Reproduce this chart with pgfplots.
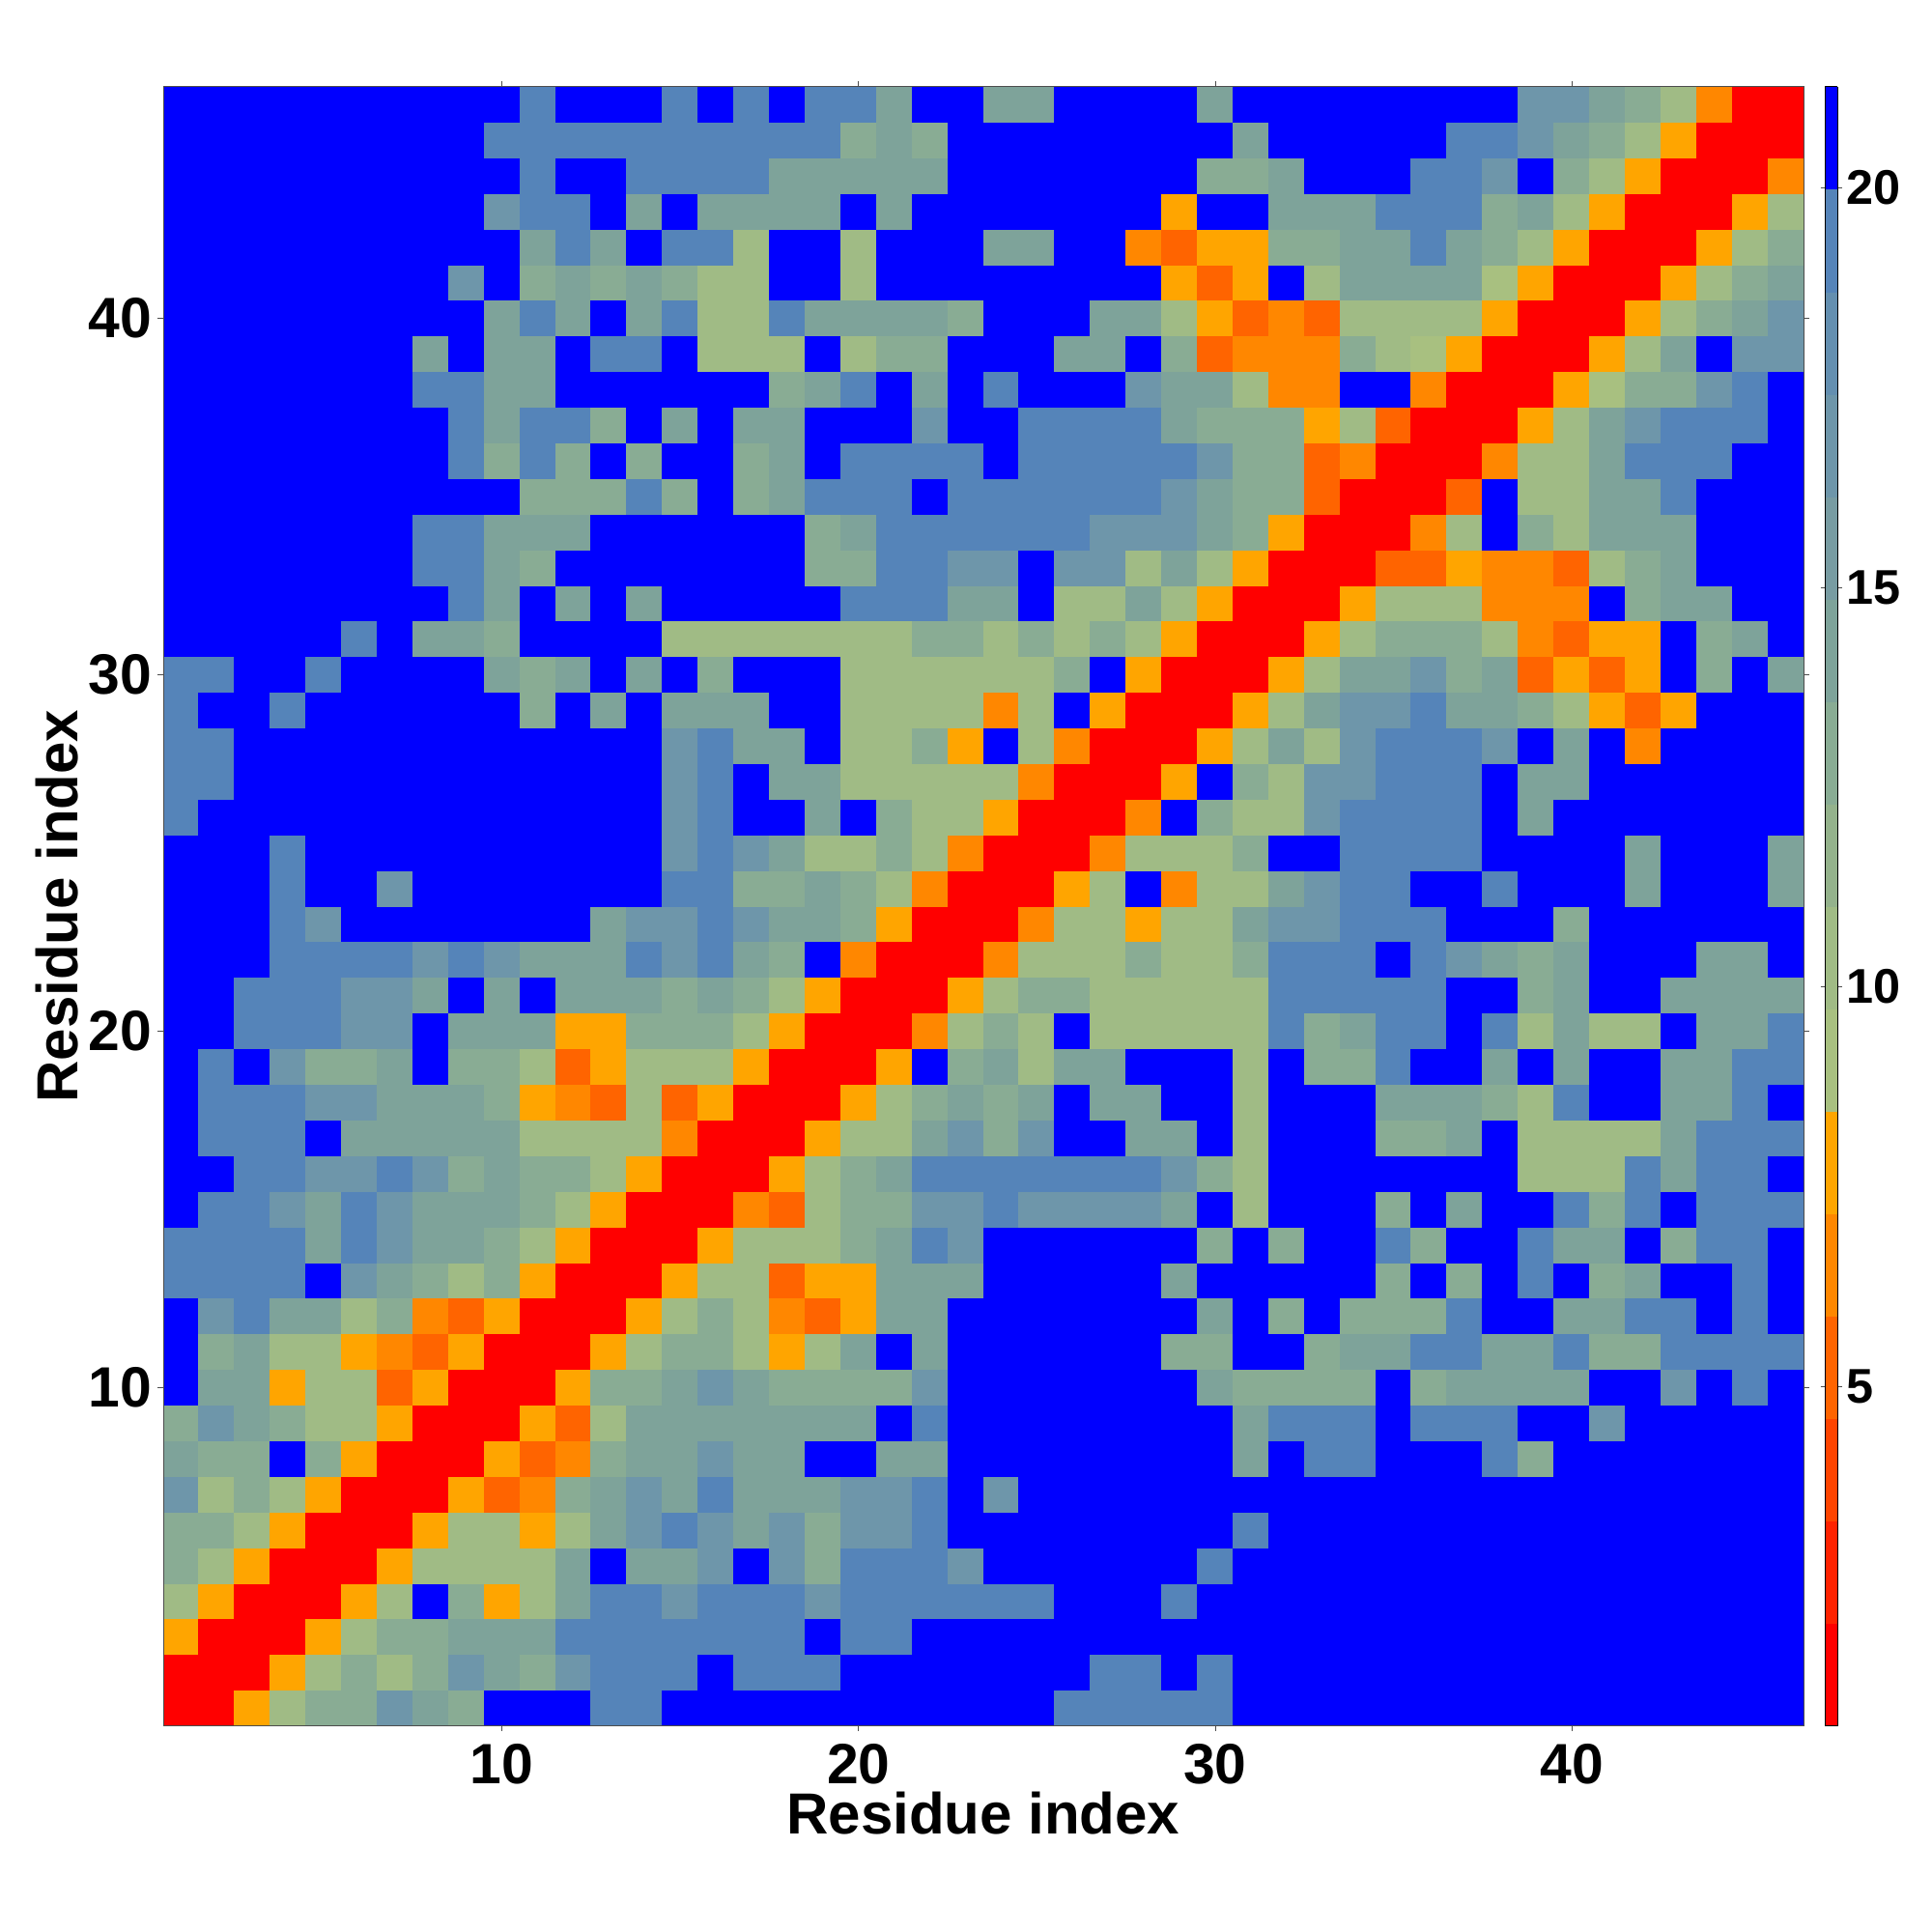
\documentclass[border=0pt]{standalone}
\usepackage{pgfplots}
\pgfplotsset{compat=1.18}
\usepackage{fontspec}
\setmainfont{Liberation Sans}
\begin{document}
\begin{tikzpicture}
\useasboundingbox (-42.25pt,-53.35pt) rectangle (457.75pt,446.65pt);
\begin{axis}[
  at={(0,0)}, anchor=south west,
  scale only axis, width=424.5pt, height=424.25pt,
  xmin=0.5, xmax=46.5, ymin=0.5, ymax=46.5,
  xtick={10,20,30,40}, ytick={10,20,30,40},
  tick align=outside, tick style={line width=0.2pt, black!70}, major tick length=1.4pt,
  axis line style={line width=0.25pt, black!70},
  axis on top,
  /pgf/number format/assume math mode=true,
  ticklabel style={font=\fontsize{14.7}{16}\selectfont\bfseries},
  xticklabel style={inner ysep=0pt, yshift=-3pt},
  yticklabel style={xshift=2pt},
  xlabel={Residue index}, ylabel={Residue index},
  label style={font=\fontsize{15}{17}\selectfont\bfseries, inner sep=0pt},
  xlabel style={at={(axis description cs:0.5,0)}, anchor=center, yshift=-22.6pt},
  ylabel style={at={(axis description cs:0,0.5)}, anchor=center, rotate=0, yshift=27.5pt},
  colormap={bands}{
    rgb255=(255,0,0) rgb255=(255,34,0) rgb255=(255,68,0) rgb255=(255,100,0)
    rgb255=(255,135,0) rgb255=(255,165,0) rgb255=(168,192,128) rgb255=(160,187,133)
    rgb255=(148,178,140) rgb255=(137,172,148) rgb255=(126,163,154) rgb255=(120,156,162)
    rgb255=(110,150,170) rgb255=(100,143,176) rgb255=(85,132,185) rgb255=(0,0,255)},
  colormap access=piecewise constant,
  point meta min=0.75, point meta max=21.27,
  colorbar sampled,
  colorbar shift/.style={xshift=5.6pt},
  colorbar style={
    at={(parent axis.north east)}, anchor=north west,
    samples=17, scale only axis, width=3.25pt, height=424.25pt,
    ytick={5,10,15,20}, ticklabel pos=right,
    tick align=outside, major tick length=1.2pt,
    /pgf/number format/assume math mode=true,
    yticklabel style={font=\fontsize{12.6}{14}\selectfont\bfseries, xshift=-2.5pt},
  },
]
% grid corners: each cell takes the value of its lower-left corner, so row and column 47 are not drawn
% the +0.5 in y expr keeps floor() off pgfmath's rounding at whole multiples of 47
\addplot[surf, shader=flat corner, line width=0pt, mesh/cols=47, point meta=explicit] table[
  row sep=\\, header=false,
  x expr={mod(\coordindex,47)+0.5}, y expr={floor((\coordindex+0.5)/47)+0.5}, meta index=0] {
1\\1\\8\\10\\13\\13\\17\\14\\13\\21\\21\\21\\19\\19\\21\\21\\21\\21\\21\\21\\21\\21\\21\\21\\21\\19\\19\\19\\19\\19\\21\\21\\21\\21\\21\\21\\21\\21\\21\\21\\21\\21\\21\\21\\21\\21\\21\\
1\\1\\1\\8\\10\\13\\10\\13\\17\\14\\13\\17\\19\\19\\19\\21\\19\\19\\19\\21\\21\\21\\21\\21\\21\\21\\19\\19\\21\\19\\21\\21\\21\\21\\21\\21\\21\\21\\21\\21\\21\\21\\21\\21\\21\\21\\21\\
8\\1\\1\\1\\8\\10\\13\\13\\14\\14\\14\\19\\19\\19\\19\\19\\19\\19\\21\\19\\19\\21\\21\\21\\21\\21\\21\\21\\21\\21\\21\\21\\21\\21\\21\\21\\21\\21\\21\\21\\21\\21\\21\\21\\21\\21\\21\\
10\\8\\1\\1\\1\\8\\10\\21\\13\\8\\10\\14\\19\\19\\17\\19\\19\\19\\17\\19\\19\\19\\19\\19\\19\\21\\21\\21\\19\\21\\21\\21\\21\\21\\21\\21\\21\\21\\21\\21\\21\\21\\21\\21\\21\\21\\21\\
13\\10\\8\\1\\1\\1\\8\\10\\10\\10\\10\\14\\21\\14\\14\\17\\21\\17\\13\\19\\19\\19\\17\\21\\21\\21\\21\\21\\21\\19\\21\\21\\21\\21\\21\\21\\21\\21\\21\\21\\21\\21\\21\\21\\21\\21\\21\\
13\\13\\10\\8\\1\\1\\1\\8\\10\\10\\8\\10\\14\\17\\19\\17\\14\\17\\13\\17\\17\\19\\21\\21\\21\\21\\21\\21\\21\\21\\19\\21\\21\\21\\21\\21\\21\\21\\21\\21\\21\\21\\21\\21\\21\\21\\21\\
17\\10\\13\\10\\8\\1\\1\\1\\8\\5\\6\\13\\14\\17\\14\\19\\14\\14\\14\\17\\17\\19\\21\\17\\21\\21\\21\\21\\21\\21\\21\\21\\21\\21\\21\\21\\21\\21\\21\\21\\21\\21\\21\\21\\21\\21\\21\\
14\\13\\13\\21\\13\\8\\1\\1\\1\\8\\5\\6\\13\\14\\14\\17\\14\\14\\21\\21\\14\\14\\21\\21\\21\\21\\21\\21\\21\\21\\14\\21\\19\\19\\21\\21\\21\\19\\13\\21\\21\\21\\21\\21\\21\\21\\21\\
13\\17\\14\\13\\10\\10\\8\\1\\1\\1\\8\\5\\10\\14\\14\\14\\14\\14\\14\\14\\21\\19\\21\\21\\21\\21\\21\\21\\21\\21\\14\\19\\19\\19\\21\\19\\19\\19\\21\\21\\17\\21\\21\\21\\21\\21\\21\\
21\\14\\14\\8\\10\\10\\5\\8\\1\\1\\1\\8\\13\\13\\14\\17\\14\\13\\13\\13\\13\\17\\21\\21\\21\\21\\21\\21\\21\\14\\13\\13\\13\\13\\21\\13\\14\\14\\14\\14\\21\\21\\17\\21\\19\\21\\21\\
21\\13\\14\\10\\10\\8\\6\\5\\8\\1\\1\\1\\8\\10\\13\\13\\10\\8\\10\\14\\21\\14\\21\\21\\21\\21\\21\\21\\13\\13\\21\\21\\13\\14\\14\\19\\19\\14\\14\\19\\13\\13\\19\\19\\19\\19\\21\\
21\\17\\19\\14\\14\\10\\13\\6\\5\\8\\1\\1\\1\\8\\10\\13\\10\\6\\5\\8\\14\\14\\21\\21\\21\\21\\21\\21\\21\\14\\21\\13\\21\\13\\13\\13\\19\\21\\21\\14\\14\\19\\19\\21\\19\\21\\21\\
19\\19\\19\\19\\21\\17\\14\\13\\10\\13\\8\\1\\1\\1\\8\\10\\10\\5\\8\\8\\14\\14\\14\\21\\21\\21\\21\\21\\14\\21\\21\\21\\21\\21\\13\\21\\13\\21\\19\\21\\13\\14\\21\\21\\19\\21\\21\\
19\\19\\19\\19\\14\\19\\17\\14\\14\\13\\10\\8\\1\\1\\1\\8\\10\\10\\10\\13\\14\\19\\17\\21\\21\\21\\21\\21\\21\\13\\21\\13\\21\\21\\19\\13\\21\\21\\19\\14\\14\\21\\13\\19\\19\\21\\21\\
21\\19\\19\\17\\14\\19\\17\\14\\14\\14\\13\\10\\8\\1\\1\\1\\6\\5\\10\\13\\13\\17\\17\\19\\17\\17\\17\\17\\14\\21\\10\\21\\21\\21\\13\\21\\14\\21\\21\\19\\13\\19\\21\\19\\19\\19\\21\\
21\\21\\19\\19\\17\\17\\19\\17\\13\\14\\13\\13\\10\\8\\1\\1\\1\\8\\10\\13\\14\\19\\19\\19\\19\\19\\19\\19\\17\\13\\10\\21\\21\\21\\21\\21\\21\\21\\10\\10\\10\\19\\14\\19\\19\\21\\21\\
21\\19\\19\\19\\21\\14\\14\\14\\14\\14\\10\\10\\10\\10\\6\\1\\1\\1\\8\\10\\10\\14\\17\\13\\17\\21\\21\\14\\14\\21\\10\\21\\21\\21\\13\\13\\14\\21\\10\\10\\10\\10\\14\\19\\19\\19\\21\\
21\\19\\19\\19\\17\\17\\14\\14\\14\\13\\8\\6\\5\\10\\5\\8\\1\\1\\1\\8\\10\\13\\14\\13\\14\\21\\14\\14\\21\\21\\10\\21\\21\\21\\14\\14\\14\\13\\10\\19\\21\\21\\14\\14\\19\\21\\21\\
21\\19\\21\\17\\13\\13\\14\\21\\13\\13\\10\\5\\8\\10\\10\\10\\8\\1\\1\\1\\8\\21\\13\\14\\10\\14\\14\\21\\21\\21\\10\\21\\13\\13\\19\\21\\21\\14\\21\\14\\21\\21\\14\\14\\19\\19\\21\\
21\\21\\19\\19\\19\\17\\17\\21\\14\\14\\14\\8\\8\\13\\13\\13\\10\\8\\1\\1\\1\\6\\10\\13\\10\\21\\10\\10\\10\\10\\10\\19\\13\\14\\19\\19\\21\\19\\10\\14\\10\\10\\21\\14\\14\\19\\21\\
21\\21\\19\\19\\19\\17\\17\\14\\21\\14\\21\\14\\14\\14\\13\\14\\13\\10\\8\\1\\1\\1\\8\\10\\13\\13\\10\\10\\10\\10\\10\\19\\19\\19\\19\\19\\21\\21\\13\\14\\21\\21\\14\\14\\14\\14\\21\\
21\\21\\21\\19\\19\\19\\19\\17\\19\\17\\14\\14\\14\\19\\17\\19\\14\\13\\21\\6\\1\\1\\1\\6\\10\\10\\10\\13\\10\\10\\13\\19\\19\\19\\21\\19\\17\\14\\13\\14\\21\\21\\21\\14\\14\\21\\21\\
21\\21\\21\\19\\17\\21\\21\\21\\21\\21\\21\\21\\14\\17\\17\\19\\17\\14\\14\\13\\8\\1\\1\\1\\6\\10\\10\\8\\10\\10\\14\\17\\17\\19\\19\\19\\21\\21\\21\\13\\21\\21\\21\\21\\21\\21\\21\\
21\\21\\21\\19\\21\\21\\17\\21\\21\\21\\21\\21\\21\\21\\19\\19\\13\\13\\14\\13\\10\\6\\1\\1\\1\\8\\10\\21\\6\\10\\10\\14\\17\\19\\19\\21\\21\\19\\21\\21\\21\\14\\21\\21\\21\\14\\21\\
21\\21\\21\\19\\21\\21\\21\\21\\21\\21\\21\\21\\21\\21\\17\\19\\17\\14\\10\\10\\13\\10\\6\\1\\1\\1\\6\\10\\10\\10\\13\\21\\21\\19\\19\\19\\19\\21\\21\\21\\21\\14\\21\\21\\21\\14\\21\\
19\\21\\21\\21\\21\\21\\21\\21\\21\\21\\21\\21\\21\\21\\17\\19\\21\\21\\14\\21\\13\\10\\10\\8\\1\\1\\1\\6\\21\\13\\10\\10\\17\\19\\19\\19\\19\\21\\14\\21\\21\\21\\21\\21\\21\\21\\21\\
19\\19\\21\\21\\21\\21\\21\\21\\21\\21\\21\\21\\21\\21\\17\\19\\21\\14\\14\\10\\10\\10\\10\\10\\6\\1\\1\\1\\8\\21\\13\\10\\17\\17\\19\\19\\19\\21\\14\\14\\21\\21\\21\\21\\21\\21\\21\\
19\\19\\21\\21\\21\\21\\21\\21\\21\\21\\21\\21\\21\\21\\17\\19\\14\\14\\21\\10\\10\\13\\8\\21\\10\\6\\1\\1\\1\\8\\10\\14\\10\\17\\19\\19\\19\\17\\21\\14\\21\\6\\21\\21\\21\\21\\21\\
19\\21\\21\\19\\21\\21\\21\\21\\21\\21\\13\\21\\14\\21\\14\\14\\14\\21\\21\\10\\10\\10\\10\\6\\10\\21\\8\\1\\1\\1\\8\\10\\14\\17\\17\\19\\14\\14\\13\\10\\8\\5\\8\\21\\21\\21\\21\\
19\\19\\21\\21\\19\\21\\21\\21\\21\\14\\13\\14\\21\\14\\21\\13\\21\\21\\21\\10\\10\\10\\10\\10\\10\\13\\21\\8\\1\\1\\1\\8\\10\\14\\14\\17\\13\\14\\5\\8\\5\\8\\21\\13\\21\\14\\21\\
21\\21\\21\\21\\21\\19\\21\\14\\14\\13\\21\\21\\21\\21\\10\\10\\10\\10\\10\\10\\10\\13\\13\\10\\13\\10\\13\\10\\8\\1\\1\\1\\8\\10\\13\\13\\13\\10\\6\\5\\8\\8\\21\\13\\14\\21\\21\\
21\\21\\21\\21\\21\\21\\21\\21\\19\\14\\21\\14\\21\\14\\21\\21\\21\\21\\21\\19\\19\\19\\14\\14\\21\\10\\10\\14\\10\\8\\1\\1\\1\\8\\10\\10\\10\\6\\6\\6\\21\\13\\14\\14\\21\\21\\21\\
21\\21\\21\\21\\21\\21\\21\\19\\19\\14\\13\\21\\21\\21\\21\\21\\21\\21\\13\\13\\19\\19\\17\\17\\21\\17\\17\\10\\14\\10\\8\\1\\1\\1\\5\\5\\8\\6\\6\\5\\10\\13\\14\\21\\21\\21\\21\\
21\\21\\21\\21\\21\\21\\21\\19\\19\\14\\14\\14\\21\\21\\21\\21\\21\\21\\13\\14\\19\\19\\19\\19\\19\\19\\17\\17\\17\\14\\13\\8\\1\\1\\1\\6\\10\\21\\13\\10\\14\\14\\14\\21\\21\\21\\21\\
21\\21\\21\\21\\21\\21\\21\\21\\21\\21\\13\\13\\13\\19\\13\\21\\13\\14\\19\\19\\19\\21\\19\\19\\19\\19\\19\\19\\17\\14\\13\\13\\5\\1\\1\\1\\5\\21\\10\\10\\14\\14\\19\\21\\21\\21\\21\\
21\\21\\21\\21\\21\\21\\21\\21\\19\\13\\19\\13\\21\\13\\21\\21\\13\\14\\21\\19\\19\\19\\19\\21\\19\\19\\19\\19\\19\\17\\13\\13\\5\\6\\1\\1\\1\\6\\10\\10\\14\\19\\19\\19\\21\\21\\21\\
21\\21\\21\\21\\21\\21\\21\\21\\19\\14\\19\\19\\13\\21\\14\\21\\14\\14\\21\\21\\21\\17\\21\\21\\19\\19\\19\\19\\14\\13\\13\\13\\8\\10\\5\\1\\1\\1\\8\\10\\14\\17\\19\\19\\19\\21\\21\\
21\\21\\21\\21\\21\\21\\21\\19\\19\\14\\14\\21\\21\\21\\21\\21\\21\\13\\14\\19\\21\\14\\21\\19\\21\\21\\21\\17\\14\\14\\10\\6\\6\\21\\21\\6\\1\\1\\1\\8\\9\\13\\13\\17\\19\\21\\21\\
21\\21\\21\\21\\21\\21\\21\\14\\21\\14\\14\\21\\19\\19\\21\\10\\10\\10\\21\\10\\13\\13\\21\\21\\21\\14\\14\\21\\13\\5\\6\\6\\6\\13\\10\\9\\8\\1\\1\\1\\8\\10\\14\\21\\17\\17\\21\\
21\\21\\21\\21\\21\\21\\21\\21\\21\\14\\19\\14\\21\\14\\19\\10\\10\\19\\14\\14\\14\\14\\13\\21\\21\\21\\14\\14\\10\\8\\5\\6\\5\\10\\10\\10\\10\\8\\1\\1\\1\\8\\10\\13\\14\\17\\21\\
21\\21\\21\\21\\21\\21\\21\\21\\17\\21\\13\\14\\13\\14\\13\\10\\10\\21\\21\\10\\21\\21\\21\\21\\21\\21\\21\\21\\8\\5\\8\\21\\10\\14\\14\\14\\14\\9\\8\\1\\1\\1\\8\\10\\13\\14\\21\\
21\\21\\21\\21\\21\\21\\21\\21\\21\\21\\14\\19\\14\\21\\19\\19\\10\\21\\21\\10\\21\\21\\21\\14\\14\\21\\21\\6\\5\\8\\8\\13\\13\\14\\14\\19\\14\\13\\10\\8\\1\\1\\1\\8\\10\\13\\21\\
21\\21\\21\\21\\21\\21\\21\\21\\21\\17\\19\\19\\21\\14\\21\\14\\14\\14\\14\\21\\14\\21\\21\\21\\21\\21\\21\\21\\8\\21\\21\\14\\14\\14\\19\\19\\19\\13\\14\\10\\8\\1\\1\\1\\8\\10\\21\\
21\\21\\21\\21\\21\\21\\21\\21\\21\\21\\19\\21\\21\\19\\19\\19\\19\\14\\14\\14\\14\\14\\21\\21\\21\\21\\21\\21\\21\\13\\13\\14\\21\\21\\21\\19\\19\\17\\21\\13\\10\\8\\1\\1\\1\\6\\21\\
21\\21\\21\\21\\21\\21\\21\\21\\21\\19\\19\\19\\19\\19\\19\\19\\19\\19\\19\\13\\14\\13\\21\\21\\21\\21\\21\\21\\21\\21\\14\\21\\21\\21\\21\\21\\19\\19\\17\\14\\13\\10\\8\\1\\1\\1\\21\\
21\\21\\21\\21\\21\\21\\21\\21\\21\\21\\19\\21\\21\\21\\19\\21\\19\\21\\19\\19\\14\\21\\21\\14\\14\\21\\21\\21\\21\\14\\21\\21\\21\\21\\21\\21\\21\\21\\17\\17\\14\\13\\10\\6\\1\\1\\21\\
21\\21\\21\\21\\21\\21\\21\\21\\21\\21\\21\\21\\21\\21\\21\\21\\21\\21\\21\\21\\21\\21\\21\\21\\21\\21\\21\\21\\21\\21\\21\\21\\21\\21\\21\\21\\21\\21\\21\\21\\21\\21\\21\\21\\21\\21\\21\\
};
\end{axis}
\end{tikzpicture}
\end{document}
